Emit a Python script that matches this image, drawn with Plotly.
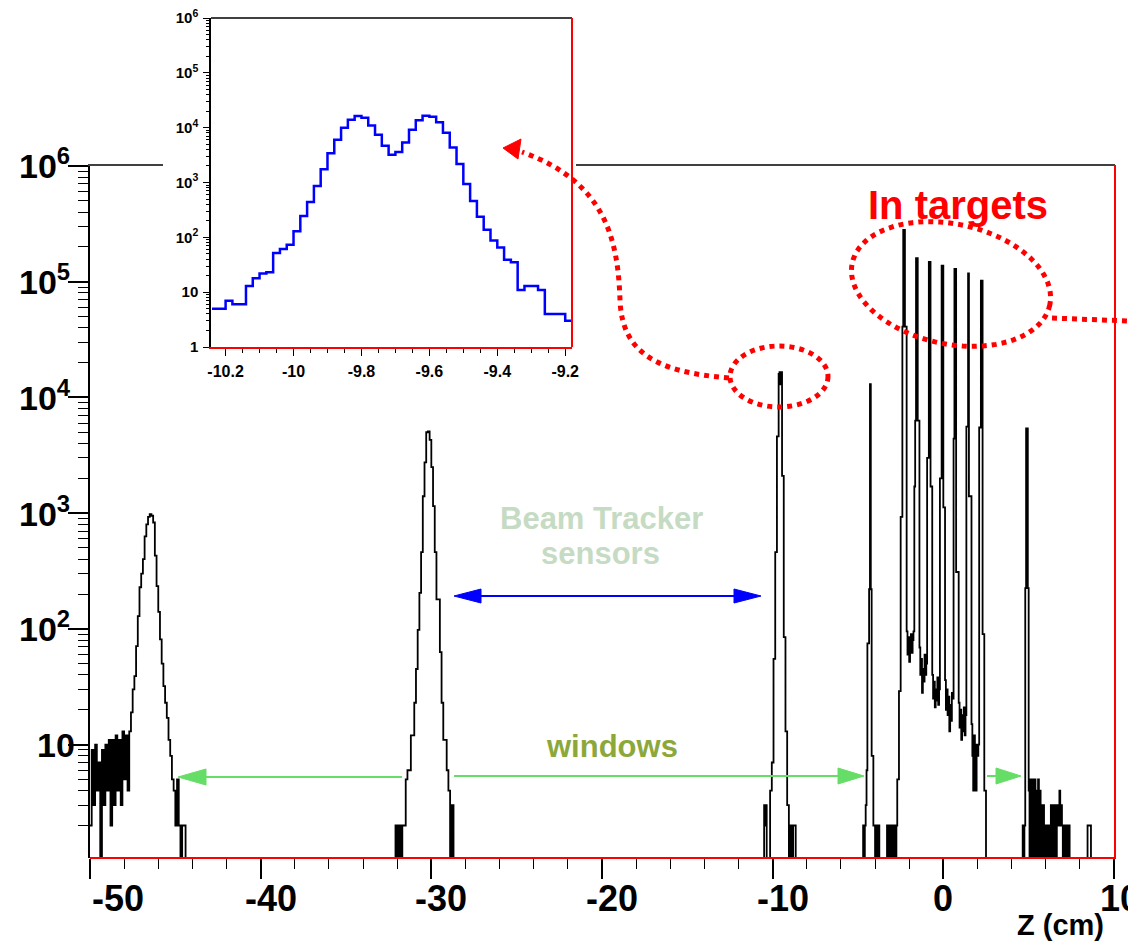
import numpy as np
import plotly.graph_objects as go

W, H = 1128, 941

# ---------------- data ----------------
# Main histogram: segments (first bin edge, bin width, counts). Bins outside the segments are empty.
seg_upstream_start, seg_upstream_width = -50.0, 0.1
seg_upstream_counts = [2, 9, 3, 10, 4, 7, 0, 9, 3, 10, 4, 11, 2, 11, 3, 12, 4, 11, 3, 13, 5, 12, 4, 13,
                       19, 30, 39, 71, 129, 229, 300, 400, 630, 800, 930, 980, 950, 830, 430, 234, 140,
                       81, 50, 32, 23, 17, 11, 8, 5, 4, 2, 5, 2, 0, 2, 2, 0]

seg_bt1_start, seg_bt1_width = -32.2, 0.1
seg_bt1_counts = [0, 2, 0, 2, 0, 2, 2, 5, 6, 6, 12, 12, 23, 45, 98, 205, 460, 1400, 2750, 5000,
                  5100, 4300, 2500, 1150, 460, 180, 180, 63, 23, 11, 11, 6, 4, 0, 3, 0]

seg_bt2_start, seg_bt2_width = -10.55, 0.05
seg_bt2_counts = [0, 3, 2, 3, 0, 0, 0, 0, 4, 4, 7, 7, 55, 55, 460, 460, 4600, 4600, 16000, 16500,
                  13000, 16500, 2100, 2100, 85, 85, 13, 13, 3, 3, 0, 0, 2, 2, 0, 2, 2, 2]

seg_targets_start, seg_targets_width = -4.70, 0.05
seg_targets_counts = [
    2, 0, 2, 3, 6, 75, 75, 220, 13000, 220, 8, 8, 2, 2, 0, 2, 2, 0, 2, 0,
    0, 0, 0, 0, 0, 0, 0, 0, 2, 0, 2, 0, 2, 0, 0, 2, 0, 2, 0, 2,
    5, 5, 29, 29, 930, 930, 41000, 280000, 280000, 41000, 41000,
    95, 60, 85, 52, 75, 90, 62, 80, 95,
    1700, 6300, 160000, 160000, 6300, 6300,
    69, 40, 55, 28, 45, 35, 60, 40, 50,
    3000, 3000, 148000, 148000, 1700, 1700,
    40, 25, 35, 21, 30, 24, 38, 22, 30,
    2000, 2000, 138000, 138000, 1120, 1120,
    36, 20, 30, 18, 26, 13, 22, 16, 28, 25,
    4400, 129000, 129000, 310, 310, 310,
    23, 14, 20, 11, 18, 13, 21, 12, 18,
    5600, 5600, 118000, 1400, 1400, 1400,
    15, 8, 4, 12, 6, 4, 10, 8, 10,
    5500, 5500, 102000, 102000, 90, 90, 4, 4, 0]

seg_down_start, seg_down_width = 4.60, 0.05
seg_down_counts = [0, 2, 0, 2, 225, 5400, 5400, 225,
                   4, 0, 5, 0, 5, 4, 0, 5, 0, 4, 0, 5, 0, 4, 0, 3, 0, 3, 0, 2, 0, 2,
                   0, 2, 0, 0, 3, 0, 3, 0, 0, 3, 0, 2, 3, 2, 4, 2, 3, 2, 0, 2,
                   0, 2, 0, 0, 2, 2, 0, 0]

seg_tail_start, seg_tail_width = 8.45, 0.1
seg_tail_counts = [2, 2]

# Inset histogram (zoom on the -10 cm sensor)
inset_first_edge, inset_bin_width = -10.24, 0.02
inset_counts = [5, 5, 7, 6, 6, 13, 18, 22, 23, 52, 61, 73, 129, 245, 441, 863, 1740, 3400, 6040,
                10000, 14000, 16300, 15200, 11000, 7400, 4660, 3220, 3600, 5340, 9200, 13600,
                16500, 15800, 12600, 8100, 4370, 2170, 940, 460, 238, 138, 88, 65, 39, 35, 11,
                13, 13, 11, 4, 4, 4, 3]

main_xticks = [-50, -40, -30, -20, -10, 0, 10]
main_xticklabels = ["-50", "-40", "-30", "-20", "-10", "0", "10"]
main_yticks = [10, 1e2, 1e3, 1e4, 1e5, 1e6]
main_yticklabels = ["10", "10<sup>2</sup>", "10<sup>3</sup>", "10<sup>4</sup>", "10<sup>5</sup>", "10<sup>6</sup>"]
inset_xticks = [-10.2, -10.0, -9.8, -9.6, -9.4, -9.2]
inset_xticklabels = ["-10.2", "-10", "-9.8", "-9.6", "-9.4", "-9.2"]
inset_yticks = [1, 10, 1e2, 1e3, 1e4, 1e5, 1e6]
inset_yticklabels = ["1", "10", "10<sup>2</sup>", "10<sup>3</sup>", "10<sup>4</sup>", "10<sup>5</sup>", "10<sup>6</sup>"]

Z_MIN, Z_MAX = -50.0, 10.0
EMPTY = 0.3  # drawn below the log axis floor

# ---------------- geometry (pixels) ----------------
ML, MR, MT, MB = 90, 1114, 166, 858
IL, IR, IT, IB = 211, 572, 18, 347


def fx(x):
    return x / W


def fy(y):
    return 1 - y / H


def build_steps(segments, zmin, zmax):
    xs, ys = [], []
    cur = zmin
    for start, width, counts in sorted(segments, key=lambda s: s[0]):
        if start > cur + 1e-9:
            xs.append(cur)
            ys.append(EMPTY)
        for i, c in enumerate(counts):
            xs.append(start + i * width)
            ys.append(c if c > 0 else EMPTY)
        cur = start + len(counts) * width
    if cur < zmax - 1e-9:
        xs.append(cur)
        ys.append(EMPTY)
    xs.append(zmax)
    ys.append(ys[-1])
    return xs, ys


main_x, main_y = build_steps([
    (seg_upstream_start, seg_upstream_width, seg_upstream_counts),
    (seg_bt1_start, seg_bt1_width, seg_bt1_counts),
    (seg_bt2_start, seg_bt2_width, seg_bt2_counts),
    (seg_targets_start, seg_targets_width, seg_targets_counts),
    (seg_down_start, seg_down_width, seg_down_counts),
    (seg_tail_start, seg_tail_width, seg_tail_counts),
], Z_MIN, Z_MAX)

inset_edges = [inset_first_edge + i * inset_bin_width for i in range(len(inset_counts) + 1)]
inset_x = inset_edges
inset_y = inset_counts + [inset_counts[-1]]

FONT = "Liberation Sans, Arial, sans-serif"

fig = go.Figure()
fig.add_trace(go.Scatter(x=main_x, y=main_y, mode="lines", line=dict(color="black", width=1.8, shape="hv"),
                         xaxis="x", yaxis="y", hoverinfo="skip"))
fig.add_trace(go.Scatter(x=inset_x, y=inset_y, mode="lines", line=dict(color="#0000ff", width=2.5, shape="hv"),
                         xaxis="x2", yaxis="y2", hoverinfo="skip"))


def minor_log(lo, hi):
    vals = []
    for k in range(lo, hi):
        for d in range(2, 10):
            vals.append(d * 10 ** k)
    return vals


fig.update_layout(
    width=W, height=H, margin=dict(l=0, r=0, t=0, b=0, autoexpand=False),
    paper_bgcolor="white", plot_bgcolor="white", showlegend=False,
    xaxis=dict(domain=[fx(ML), fx(MR)], range=[Z_MIN, Z_MAX], anchor="y", automargin=False,
               showgrid=False, zeroline=False, showline=False,
               tickmode="array", tickvals=main_xticks, showticklabels=False,
               ticks="outside", ticklen=20, tickwidth=1.5, tickcolor="black",
               minor=dict(ticks="outside", ticklen=10, tickwidth=1.2, tickcolor="black", dtick=2, tick0=-50)),
    yaxis=dict(domain=[fy(MB), fy(MT)], type="log", range=[0.02, 6], anchor="x", automargin=False,
               showgrid=False, zeroline=False, showline=True, linecolor="black", linewidth=1.5,
               tickmode="array", tickvals=main_yticks, showticklabels=False,
               ticks="outside", ticklen=20, tickwidth=1.5, tickcolor="black",
               minor=dict(ticks="outside", ticklen=10, tickwidth=1.2, tickcolor="black",
                          tickmode="array", tickvals=minor_log(0, 6))),
    xaxis2=dict(domain=[fx(IL), fx(IR)], range=[-10.243, -9.18], anchor="y2", automargin=False,
                showgrid=False, zeroline=False, showline=True, linecolor="red", linewidth=2,
                tickmode="array", tickvals=inset_xticks, ticktext=inset_xticklabels,
                ticks="outside", ticklen=7, tickwidth=1, tickcolor="black",
                minor=dict(ticks="outside", ticklen=4, tickwidth=1, tickcolor="black", dtick=0.05, tick0=-10.2),
                tickfont=dict(family=FONT, size=16, color="black", weight="bold"),
                ticklabelstandoff=2),
    yaxis2=dict(domain=[fy(IB), fy(IT)], type="log", range=[0, 6], anchor="x2", automargin=False,
                showgrid=False, zeroline=False, showline=True, linecolor="black", linewidth=1.5,
                tickmode="array", tickvals=inset_yticks, ticktext=inset_yticklabels,
                ticks="outside", ticklen=6, tickwidth=1, tickcolor="black",
                minor=dict(ticks="outside", ticklen=3, tickwidth=1, tickcolor="black",
                           tickmode="array", tickvals=minor_log(0, 6)),
                tickfont=dict(family=FONT, size=15, color="black", weight="bold"),
                ticklabelstandoff=2),
)

shapes = []


def seg(x0, y0, x1, y1, color, width, dash=None):
    d = dict(type="line", xref="paper", yref="paper", x0=fx(x0), y0=fy(y0), x1=fx(x1), y1=fy(y1),
             line=dict(color=color, width=width), layer="above")
    if dash:
        d["line"]["dash"] = dash
    shapes.append(d)


def tri(p1, p2, p3, color):
    path = "M {} {} L {} {} L {} {} Z".format(fx(p1[0]), fy(p1[1]), fx(p2[0]), fy(p2[1]), fx(p3[0]), fy(p3[1]))
    shapes.append(dict(type="path", xref="paper", yref="paper", path=path, fillcolor=color,
                       line=dict(color=color, width=1), layer="above"))


# frames
seg(88, 165, 163, 165, "black", 1.5)
seg(576, 165, 1115, 165, "black", 1.5)
seg(1115, 165, 1115, 859, "red", 2)
seg(90, 858, 1115, 858, "red", 2)
seg(IL, IT, IR, IT, "black", 1.5)
seg(IR, IT, IR, IB, "red", 2)

RED = "#ff0000"
# dotted ellipse around the -10 cm peak
shapes.append(dict(type="circle", xref="paper", yref="paper", x0=fx(730), x1=fx(828), y0=fy(407), y1=fy(346),
                   line=dict(color=RED, width=5, dash="dot"), layer="above"))

# tilted dotted ellipse around targets
cx, cy, a, b, ang = 951, 284, 101, 60, np.deg2rad(12)
t = np.linspace(0, 2 * np.pi, 90, endpoint=False)
ex = cx + a * np.cos(t) * np.cos(ang) - b * np.sin(t) * np.sin(ang)
ey = cy + a * np.cos(t) * np.sin(ang) + b * np.sin(t) * np.cos(ang)
epath = "M " + " L ".join("{:.5f},{:.5f}".format(fx(x), fy(y)) for x, y in zip(ex, ey)) + " Z"
shapes.append(dict(type="path", xref="paper", yref="paper", path=epath,
                   line=dict(color=RED, width=5, dash="dot"), layer="above"))
seg(1052, 318, 1128, 321, RED, 5, "dot")

# curved dotted arrow to the inset
cpath = "M {},{} C {},{} {},{} {},{} C {},{} {},{} {},{}".format(
    fx(729), fy(378), fx(655), fy(372), fx(622), fy(352), fx(620), fy(300),
    fx(618), fy(240), fx(606), fy(182), fx(522), fy(152))
shapes.append(dict(type="path", xref="paper", yref="paper", path=cpath,
                   line=dict(color=RED, width=5, dash="dot"), layer="above"))
tri((503, 148), (521, 139), (518, 159), RED)

# blue double arrow
BLUE = "#0000ff"
seg(478, 596, 737, 596, BLUE, 2)
tri((454, 596), (481, 589), (481, 603), BLUE)
tri((761, 596), (734, 589), (734, 603), BLUE)

# green arrows
GREEN = "#66dd66"
seg(203, 777, 402, 777, GREEN, 2)
tri((178, 777), (206, 769), (206, 785), GREEN)
seg(454, 776, 842, 776, GREEN, 2)
tri((864, 776), (838, 768), (838, 784), GREEN)
seg(987, 776, 1000, 776, GREEN, 2)
tri((1021, 776), (996, 768), (996, 784), GREEN)

fig.update_layout(shapes=shapes)


def txt(text, x, y, size, color, xanchor="center"):
    fig.add_annotation(text=text, x=fx(x), y=fy(y), xref="paper", yref="paper", showarrow=False,
                       xanchor=xanchor, yanchor="middle",
                       font=dict(family=FONT, size=size, color=color, weight="bold"))


# main axis tick labels (placed as in the original figure)
for v, lab in zip(main_xticks, main_xticklabels):
    if v == Z_MIN:
        shift = 28
    elif v < 0:
        shift = 10
    elif v > 0:
        shift = 6
    else:
        shift = 0
    fig.add_annotation(text=lab, x=v, xref="x", y=fy(898), yref="paper", showarrow=False,
                       xanchor="center", yanchor="middle", xshift=shift,
                       font=dict(family=FONT, size=36, color="black", weight="bold"))
for v, lab in zip(main_yticks, main_yticklabels):
    if "sup" in lab:
        fig.add_annotation(text=lab, x=fx(17), xref="paper", y=np.log10(v), yref="y", showarrow=False,
                           xanchor="left", yanchor="middle", yshift=2,
                           font=dict(family=FONT, size=34, color="black", weight="bold"))
    else:
        fig.add_annotation(text=lab, x=fx(77), xref="paper", y=np.log10(v), yref="y", showarrow=False,
                           xanchor="right", yanchor="middle",
                           font=dict(family=FONT, size=34, color="black", weight="bold"))

txt("In targets", 958, 205, 40, RED)
txt("Beam Tracker", 601, 518, 31, "#c6dbc3")
txt("sensors", 600, 553, 31, "#c6dbc3")
txt("windows", 612, 746, 31, "#8ca83a")
txt("Z (cm)", 1106, 925, 29, "black", xanchor="right")

fig.write_html("out.html")
